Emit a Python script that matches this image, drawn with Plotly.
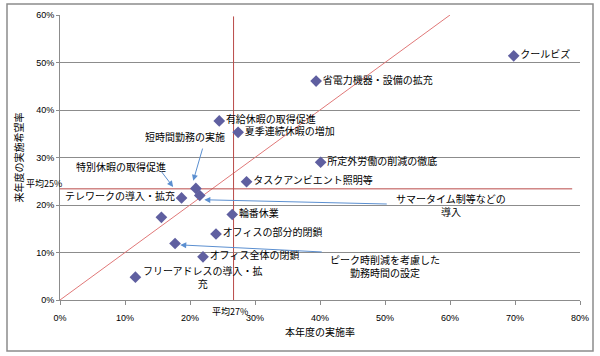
import plotly.graph_objects as go

# ---- data (percent) ----
measures = [
    "クールビズ", "省電力機器・設備の拡充", "有給休暇の取得促進", "夏季連続休暇の増加",
    "所定外労働の削減の徹底", "タスクアンビエント照明等", "短時間勤務の実施",
    "サマータイム制等などの導入", "テレワークの導入・拡充", "特別休暇の取得促進",
    "輪番休業", "オフィスの部分的閉鎖", "ピーク時削減を考慮した勤務時間の設定",
    "オフィス全体の閉鎖", "フリーアドレスの導入・拡充",
]
this_year = [69.8, 39.4, 24.5, 27.4, 40.1, 28.7, 20.9, 21.5, 18.7, 15.6, 26.5, 24.0, 17.7, 22.0, 11.6]
next_year = [51.4, 46.1, 37.7, 35.3, 29.0, 24.9, 23.5, 22.0, 21.5, 17.4, 18.0, 13.9, 11.9, 9.1, 4.8]

avg_this_year = 26.7
avg_next_year = 23.4
avg_x_label = "平均27%"
avg_y_label = "平均25%"

x_ticks = [0, 10, 20, 30, 40, 50, 60, 70, 80]
y_ticks = [0, 10, 20, 30, 40, 50, 60]
x_title = "本年度の実施率"
y_title = "来年度の実施希望率"

# ---- label placement (style) ----
label_mode = ["r", "r", "r", "r", "r", "r", None, None, "l", None, "r", "r", None, "r", None]

JP = "Noto Sans CJK JP"
MARK = "#5F5FA0"
RED = "#B94A48"
PINK = "#E07878"
ARROW = "#5B8FD0"
GRID = "#8C8C8C"

fig = go.Figure()

fig.add_trace(go.Scatter(x=[0, 60], y=[0, 60], mode="lines",
                         line=dict(color=PINK, width=1), hoverinfo="skip", showlegend=False))
fig.add_trace(go.Scatter(x=[avg_this_year, avg_this_year], y=[0, 59.7], mode="lines",
                         line=dict(color=RED, width=1), hoverinfo="skip", showlegend=False))
fig.add_trace(go.Scatter(x=[0, 78.8], y=[avg_next_year, avg_next_year], mode="lines",
                         line=dict(color=RED, width=1), hoverinfo="skip", showlegend=False))

texts, positions = [], []
for name, m in zip(measures, label_mode):
    if m == "r":
        texts.append(name); positions.append("middle right")
    elif m == "l":
        texts.append(name); positions.append("middle left")
    else:
        texts.append(""); positions.append("middle right")

fig.add_trace(go.Scatter(
    x=this_year, y=next_year, mode="markers+text",
    marker=dict(symbol="diamond", size=9, color=MARK),
    text=texts, textposition=positions,
    textfont=dict(family=JP, size=10, color="#000"),
    showlegend=False, cliponaxis=False,
))

ann = []
idx = {n: i for i, n in enumerate(measures)}

free_labels = [
    ("短時間勤務の実施", 19.2, 34.5),
    ("特別休暇の取得促進", 9.4, 28.2),
    ("サマータイム制等などの<br>導入", 60.2, 20.0),
    ("ピーク時削減を考慮した<br>勤務時間の設定", 50.0, 7.2),
]
for t, lx, ly in free_labels:
    ann.append(dict(x=lx, y=ly, xref="x", yref="y", text=t, showarrow=False,
                    font=dict(family=JP, size=10, color="#000"), align="center",
                    xanchor="center", yanchor="middle"))

arrows = [
    ((20.5, 25.1), (22.0, 32.2)),
    ((17.4, 23.8), (15.4, 27.4)),
    ((22.2, 21.1), (50.5, 20.2)),
    ((18.5, 11.6), (40.5, 10.1)),
]
for (tx, ty), (sx, sy) in arrows:
    ann.append(dict(x=tx, y=ty, ax=sx, ay=sy, xref="x", yref="y", axref="x", ayref="y",
                    text="", showarrow=True, arrowhead=2, arrowsize=1.2, arrowwidth=1,
                    arrowcolor=ARROW, standoff=0, startstandoff=0))

i = idx["フリーアドレスの導入・拡充"]
ann.append(dict(x=this_year[i], y=next_year[i], xref="x", yref="y",
                text="フリーアドレスの導入・拡<br>充", showarrow=False, align="center",
                xanchor="left", yanchor="middle", xshift=6, yshift=0,
                font=dict(family=JP, size=10, color="#000")))

ann.append(dict(x=0, y=avg_next_year, xref="x", yref="y", text=avg_y_label, showarrow=False,
                xanchor="right", yanchor="bottom", xshift=4, yshift=-3,
                font=dict(family=JP, size=9, color="#000")))
ann.append(dict(x=avg_this_year, y=0, xref="x", yref="y", text=avg_x_label, showarrow=False,
                xanchor="center", yanchor="top", xshift=-4, yshift=-3,
                font=dict(family=JP, size=9, color="#000")))

fig.update_layout(
    width=600, height=356, autosize=False,
    margin=dict(l=60, r=20, t=15, b=56),
    paper_bgcolor="white", plot_bgcolor="white",
    annotations=ann,
    shapes=[dict(type="rect", xref="paper", yref="paper",
                 x0=(7 - 60) / 520, x1=(593 - 60) / 520,
                 y0=(300 - 351) / 285, y1=(300 - 4) / 285,
                 line=dict(color="#8C8C8C", width=1.5), fillcolor="rgba(0,0,0,0)", layer="below")],
    xaxis=dict(range=[0, 80], tickvals=x_ticks, ticktext=[f"{v}%" for v in x_ticks],
               automargin=False,
               showgrid=False, zeroline=False, showline=True, linecolor=GRID, linewidth=1,
               ticks="outside", ticklen=4, tickcolor=GRID, ticklabelstandoff=5,
               tickfont=dict(family="Liberation Sans", size=9, color="#000"),
               title=dict(text=x_title, font=dict(family=JP, size=10, color="#000"), standoff=7)),
    yaxis=dict(range=[0, 60], tickvals=y_ticks, ticktext=[f"{v}%" for v in y_ticks],
               automargin=False,
               showgrid=True, gridcolor=GRID, gridwidth=1, zeroline=False,
               showline=True, linecolor=GRID, linewidth=1,
               ticks="outside", ticklen=3, tickcolor=GRID,
               tickfont=dict(family="Liberation Sans", size=9, color="#000"),
               title=dict(text=y_title, font=dict(family=JP, size=10, color="#000"), standoff=10)),
)

fig.write_html("out.html", config={"displayModeBar": False},
               post_script="document.body.style.margin='0px';document.body.style.overflow='hidden';")
